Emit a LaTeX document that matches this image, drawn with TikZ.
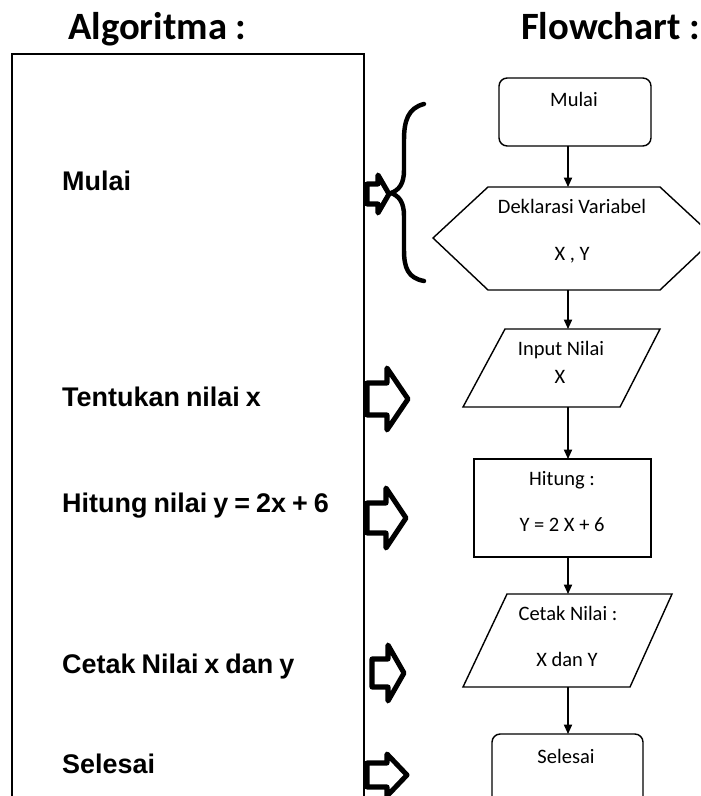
\documentclass[tikz,border=0pt]{standalone}
\usepackage{fontspec}
\setmainfont{Carlito}
\newfontfamily\arialfont[WordSpace=0.8]{Liberation Sans}
\usetikzlibrary{math,arrows.meta}

\tikzset{
  judul/.style={anchor=base west, inner sep=0pt, font=\bfseries\fontsize{33}{38}\selectfont},
  algtext/.style={anchor=base west, inner sep=0pt,
    font=\arialfont\bfseries\fontsize{23}{27}\selectfont},
  fctext/.style={anchor=base, inner sep=0pt, font=\fontsize{17.5}{20}\selectfont},
  fcbox/.style={draw, line width=1.2pt},
  alur/.style={line width=1pt, -{Triangle[width=7pt,length=8pt]}},
  bigarrow/.style={draw, line width=4.3pt, line join=round, fill=white},
}

\newcommand{\panahblok}[6]{%
  \draw[bigarrow] (#1,#2-#5) -- (#3,#2-#5) -- (#3,#2-#6) -- (#4,#2)
    -- (#3,#2+#6) -- (#3,#2+#5) -- (#1,#2+#5) -- cycle;}

\begin{document}
\begin{tikzpicture}[x=0.03cm, y=-0.03cm]
  \tikzmath{\cx = 568;}

  \useasboundingbox (0,0) rectangle (700,796);
  \clip (0,0) rectangle (700,796);

  \node[judul] (judulalg) at (68,40) {Algoritma :};
  \node[judul] (judulfc) at (521,40) {Flowchart :};

  \draw[line width=1.2pt] (12,54) rectangle (364,820);

  \node[algtext] (amulai) at (62,191) {Mulai};
  \node[algtext] (ainput) at (62,406) {Tentukan nilai x};
  \node[algtext] (ahitung) at (62,512) {Hitung nilai y = 2x + 6};
  \node[algtext] (acetak) at (62,673) {Cetak Nilai x dan y};
  \node[algtext] (aselesai) at (62,773) {Selesai};

  \panahblok{367}{194}{378}{389}{10}{19}
  \panahblok{367}{399}{387}{408}{16}{31}
  \panahblok{367}{518}{386}{406}{15}{30}
  \panahblok{372}{673}{388}{404}{14}{28}
  \panahblok{367}{775}{387}{407}{12}{21}

  \draw[line width=3.8pt, line cap=round] (424,104) .. controls (408,108) and (404,121) .. (404,140)
    -- (404,170) .. controls (404,184) and (399,190) .. (391,193)
    .. controls (399,196) and (404,202) .. (404,216) -- (404,250)
    .. controls (404,268) and (408,278) .. (424,281);

  \draw[fcbox, rounded corners=7pt] (499,78) rectangle (651,146);
  \draw[fcbox] (488,187) -- (660,187) -- (715,238) -- (660,290) -- (488,290) -- (433,238) -- cycle;
  \draw[fcbox] (505,329) -- (660,329) -- (620,407) -- (463,407) -- cycle;
  \draw[fcbox] (474,459) rectangle (651,557);
  \draw[fcbox] (507,594) -- (672,594) -- (630,687) -- (463,687) -- cycle;
  \draw[fcbox, rounded corners=7pt] (492,734) rectangle (643,840);

  \node[fctext] (fmulai) at (574,107) {Mulai};
  \node[fctext] (fdekl) at (572,214) {Deklarasi Variabel};
  \node[fctext] (fvar) at (572,260) {X , Y};
  \node[fctext] (finput) at (561,355) {Input Nilai};
  \node[fctext] (fx) at (560,383) {X};
  \node[fctext] (fhitung) at (562,485) {Hitung :};
  \node[fctext] (frumus) at (562,531) {Y = 2 X + 6};
  \node[fctext] (fcetak) at (568,620) {Cetak Nilai :};
  \node[fctext] (fxy) at (567,666) {X dan Y};
  \node[fctext] (fselesai) at (566,763) {Selesai};

  \coordinate (mulaib) at (\cx,146);
  \coordinate (deklt) at (\cx,187);
  \coordinate (deklb) at (\cx,290);
  \coordinate (inputt) at (\cx,329);
  \coordinate (inputb) at (\cx,407);
  \coordinate (hitungt) at (\cx,459);
  \coordinate (hitungb) at (\cx,557);
  \coordinate (cetakt) at (\cx,594);
  \coordinate (cetakb) at (\cx,687);
  \coordinate (selesait) at (\cx,734);

  \draw[alur] (mulaib) -- (deklt);
  \draw[alur] (deklb) -- (inputt);
  \draw[alur] (inputb) -- (hitungt);
  \draw[alur] (hitungb) -- (cetakt);
  \draw[alur] (cetakb) -- (selesait);
\end{tikzpicture}
\end{document}
